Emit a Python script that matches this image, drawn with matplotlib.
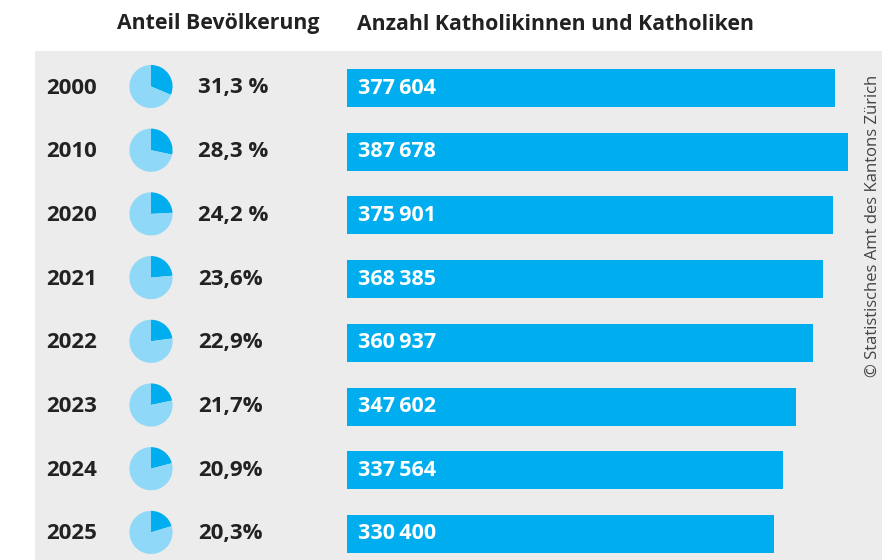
import matplotlib
matplotlib.use("Agg")
import matplotlib.pyplot as plt
from matplotlib.patches import Rectangle
from matplotlib.transforms import blended_transform_factory

years = ["2000", "2010", "2020", "2021", "2022", "2023", "2024", "2025"]
shares = [31.3, 28.3, 24.2, 23.6, 22.9, 21.7, 20.9, 20.3]
share_labels = ["31,3 %", "28,3 %", "24,2 %", "23,6%", "22,9%", "21,7%", "20,9%", "20,3%"]
counts = [377604, 387678, 375901, 368385, 360937, 347602, 337564, 330400]
count_labels = ["377\u2009604", "387\u2009678", "375\u2009901", "368\u2009385",
                "360\u2009937", "347\u2009602", "337\u2009564", "330\u2009400"]

DARK = "#00aeef"
LIGHT = "#8fd8f8"
PANEL = "#ececec"
TXT = "#222222"

plt.rcParams['font.family'] = ['Open Sans', 'DejaVu Sans']

W, H = 882, 560
fig = plt.figure(figsize=(W / 100, H / 100), dpi=100)
fig.patch.set_facecolor("white")

def fx(px):
    return px / W

def fy(py):
    return 1 - py / H

# gray panel
fig.patches.append(Rectangle((fx(35), fy(560)), fx(882) - fx(35), fy(51) - fy(560),
                             transform=fig.transFigure, facecolor=PANEL, edgecolor="none",
                             zorder=-5))

# bar axes
row_px = 63.7
row0 = 88.0
x0, x1 = 347, 882
ax = fig.add_axes([fx(x0), fy(560), fx(x1) - fx(x0), fy(51) - fy(560)])
ax.set_facecolor("none")
scale = (848 - 347) / 387678.0
ax.set_xlim(0, (x1 - x0) / scale)
last = row0 + 7 * row_px
ax.set_ylim(7 + (560 - last) / row_px, -(row0 - 51) / row_px)
ypos = list(range(len(years)))
ax.barh(ypos, counts, height=38 / row_px, color=DARK, edgecolor="none")
for s in ax.spines.values():
    s.set_visible(False)
ax.set_xticks([])
ax.set_yticks([])

for i, lab in enumerate(count_labels):
    ax.text(11 * (1 / scale), i, lab, color="white", fontsize=15.5, fontweight="bold",
            va="center", ha="left")

tr = blended_transform_factory(fig.transFigure, ax.transData)
for i in ypos:
    fig.text(fx(46), i, years[i], transform=tr, fontsize=16, fontweight="bold",
             color=TXT, va="center", ha="left")
    fig.text(fx(198), i, share_labels[i], transform=tr, fontsize=16, fontweight="bold",
             color=TXT, va="center", ha="left")

# pies
r = 22
for i in ypos:
    cy = row0 - 1.5 + i * row_px
    pax = fig.add_axes([fx(151 - r), fy(cy + r), 2 * r / W, 2 * r / H])
    pax.pie([shares[i], 100 - shares[i]], colors=[DARK, LIGHT], startangle=90,
            counterclock=False, radius=1.0, wedgeprops=dict(linewidth=0))
    pax.set_aspect("equal")
    pax.set_xlim(-1.02, 1.02)
    pax.set_ylim(-1.02, 1.02)
    pax.axis("off")

# headers
fig.text(fx(218), fy(24), "Anteil Bevölkerung", fontsize=15.3, fontweight="bold",
         color=TXT, ha="center", va="center")
fig.text(fx(357), fy(24), "Anzahl Katholikinnen und Katholiken", fontsize=15.3,
         fontweight="bold", color=TXT, ha="left", va="center")

# copyright
fig.text(fx(881), fy(75), "© Statistisches Amt des Kantons Zürich", rotation=90,
         fontsize=12, color="#444444", ha="right", va="top")

fig.savefig("out.png", dpi=100)
